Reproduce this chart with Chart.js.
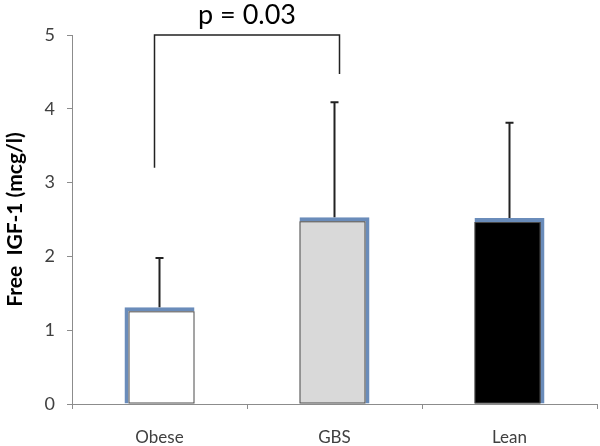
<!DOCTYPE html>
<html>
<head>
<meta charset="utf-8">
<script src="https://cdn.jsdelivr.net/npm/chart.js@4"></script>
<style>
  body { margin: 0; background: #fff; }
  #wrap { width: 600px; height: 446px; }
</style>
</head>
<body>
<div id="wrap"><canvas id="myChart"></canvas></div>
<script>
// --------------------------------------------------
// data
const categories = ["Obese", "GBS", "Lean"];
const means = [1.31, 2.53, 2.52];
const errors = [0.67, 1.56, 1.29];
const fills = ["#ffffff", "#d9d9d9", "#000000"];
const yTicks = [0, 1, 2, 3, 4, 5];

// significance bracket: Obese -> GBS
const bracketIdx = [0, 1];
const bracketLegs = [3.2, 4.47]; // where each leg ends
const bracketTop = 5;
const bracketText = "p = 0.03";

const FONT = "Lato, 'Liberation Sans', sans-serif";
const BLUE = "#6a8cba";

// --------------------------------------------------
// error bars, thin outlines and the p-value bracket
const extras = {
  id: "extras",
  afterDatasetsDraw(chart) {
    const ctx = chart.ctx;
    const x = chart.scales.x;
    const y = chart.scales.y;
    const meta = chart.getDatasetMeta(0);

    ctx.save();
    // thin dark outline of the inner fill
    meta.data.forEach((bar, i) => {
      const p = bar.getProps(["x", "y", "base", "width"], true);
      const bw = 4;
      let l = p.x - p.width / 2, r = p.x + p.width / 2;
      if (i === 0) l += bw; else r -= bw;
      ctx.strokeStyle = "#4a4a4a";
      ctx.lineWidth = 1;
      ctx.strokeRect(l + 0.5, p.y + bw + 0.5, r - l - 1, p.base - p.y - bw - 1);
    });

    // error bars (upper only)
    ctx.strokeStyle = "#222";
    ctx.lineWidth = 2;
    means.forEach((m, i) => {
      const cx = x.getPixelForValue(i);
      const y0 = y.getPixelForValue(m);
      const y1 = y.getPixelForValue(m + errors[i]);
      ctx.beginPath();
      ctx.moveTo(cx, y0);
      ctx.lineTo(cx, y1);
      ctx.moveTo(cx - 4, y1);
      ctx.lineTo(cx + 4, y1);
      ctx.stroke();
    });

    // bracket
    const xa = x.getPixelForValue(bracketIdx[0]) - 5;
    const xb = x.getPixelForValue(bracketIdx[1]) + 5;
    const yt = y.getPixelForValue(bracketTop);
    ctx.lineWidth = 1.5;
    ctx.beginPath();
    ctx.moveTo(xa, y.getPixelForValue(bracketLegs[0]));
    ctx.lineTo(xa, yt);
    ctx.lineTo(xb, yt);
    ctx.lineTo(xb, y.getPixelForValue(bracketLegs[1]));
    ctx.stroke();

    ctx.fillStyle = "#000";
    ctx.font = "27px " + FONT;
    ctx.textAlign = "center";
    ctx.textBaseline = "middle";
    ctx.fillText(bracketText, (xa + xb) / 2, yt - 20);
    ctx.restore();
  },
};

// --------------------------------------------------
const ctx = document.getElementById("myChart").getContext("2d");
const myChart = new Chart(ctx, {
  type: "bar",
  data: {
    labels: categories,
    datasets: [
      {
        data: means,
        backgroundColor: fills,
        borderColor: BLUE,
        borderSkipped: false,
        borderWidth: (c) =>
          c.dataIndex === 0
            ? { left: 4, top: 4, right: 0, bottom: 0 }
            : { left: 0, top: 4, right: 4, bottom: 0 },
        categoryPercentage: 1,
        barPercentage: 0.4,
      },
    ],
  },
  plugins: [extras],
  options: {
    responsive: true,
    maintainAspectRatio: false,
    animation: false,
    layout: { padding: { top: 35, right: 3, left: 0, bottom: 0 } },
    plugins: {
      legend: { display: false },
      tooltip: { enabled: false },
    },
    scales: {
      x: {
        afterFit: (s) => {
          s.height = 42;
        },
        grid: {
          display: true,
          drawOnChartArea: false,
          offset: true,
          tickLength: 5,
          color: "#8c8c8c",
        },
        border: { color: "#8c8c8c", width: 1 },
        ticks: {
          color: "#404040",
          font: { family: FONT, size: 17 },
          padding: 18,
        },
      },
      y: {
        min: 0,
        max: 5,
        afterBuildTicks: (s) => {
          s.ticks = yTicks.map((v) => ({ value: v }));
        },
        afterFit: (s) => {
          s.width = 72;
        },
        grid: {
          display: true,
          drawOnChartArea: false,
          tickLength: 5,
          color: "#8c8c8c",
        },
        border: { color: "#8c8c8c", width: 1 },
        ticks: {
          color: "#404040",
          font: { family: FONT, size: 18 },
          padding: 12,
        },
        title: {
          display: true,
          text: "Free  IGF-1 (mcg/l)",
          color: "#000",
          font: { family: FONT, size: 21, weight: "bold" },
          padding: { top: 3, bottom: 4 },
        },
      },
    },
  },
});
</script>
</body>
</html>
